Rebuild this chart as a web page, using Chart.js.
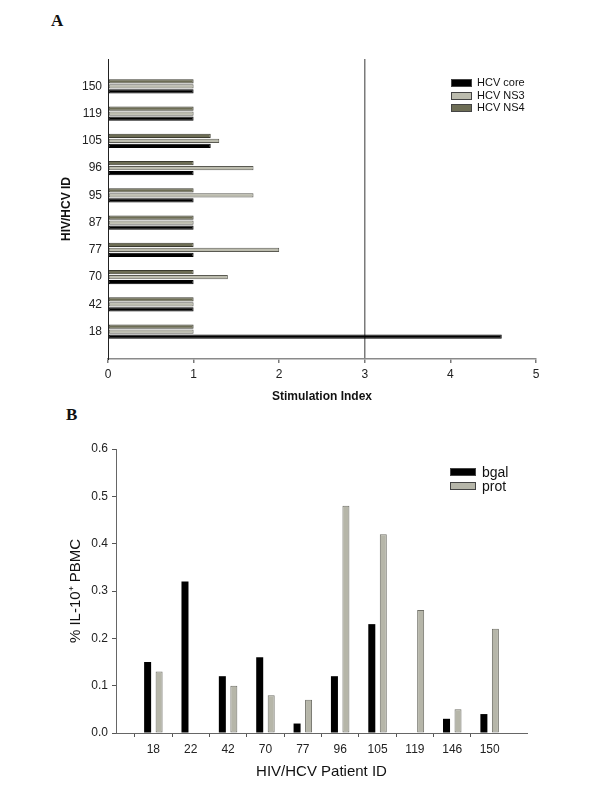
<!DOCTYPE html>
<html>
<head>
<meta charset="utf-8">
<script src="https://cdn.jsdelivr.net/npm/chart.js@4.4.0/dist/chart.umd.min.js"></script>
<style>
  body { margin: 0; background: #fff; }
  #wrap { position: relative; width: 600px; height: 800px; font-family: "Liberation Sans", Arial, sans-serif; }
  canvas { position: absolute; left: 0; }
  .panel { position: absolute; font-family: "Liberation Serif", "Times New Roman", serif; font-weight: bold; font-size: 17px; color: #111; }
  .item { position: absolute; color: #111; white-space: nowrap; }
  .item .box { position: absolute; left: 0; box-sizing: border-box; border: 1px solid #444; }
  .item .txt { position: absolute; }
</style>
</head>
<body>
<div id="wrap">
  <div class="panel" style="left:51px; top:11px;">A</div>
  <div class="panel" style="left:66px; top:405px;">B</div>
  <canvas id="chartA" width="600" height="420" style="top:0px;"></canvas>
  <canvas id="chartB" width="600" height="400" style="top:400px;"></canvas>
  <div id="legendA"></div>
  <div id="legendB"></div>
</div>
<script>
// panel A: stimulation index per patient
var idsA = ['18', '42', '70', '77', '87', '95', '96', '105', '119', '150']
var coreA = [4.6, 1, 1, 1, 1, 1, 1, 1.2, 1, 1]
var ns3A = [1, 1, 1.4, 2.0, 1, 1.7, 1.7, 1.3, 1, 1]
var ns4A = [1, 1, 1, 1, 1, 1, 1, 1.2, 1, 1]

// panel B: % IL-10+ PBMC
var idsB = ['18', '22', '42', '70', '77', '96', '105', '119', '146', '150']
var bgalB = [0.15, 0.32, 0.12, 0.16, 0.02, 0.12, 0.23, null, 0.03, 0.04]
var protB = [0.13, null, 0.10, 0.08, 0.07, 0.48, 0.42, 0.26, 0.05, 0.22]

// blank slot at each end, like the original axes
function pad(arr) { return [null].concat(arr, [null]) }
function padLabels(arr) { return [''].concat(arr, ['']) }

var font = '"Liberation Sans", Arial, sans-serif'
Chart.defaults.font.family = font
Chart.defaults.color = '#222'

var clear = 'rgba(0,0,0,0)'

let ctxA = document.getElementById('chartA').getContext('2d')
let chartA = new Chart(ctxA, {
  type: 'bar',
  data: {
    labels: padLabels(idsA),
    datasets: [
      { label: 'HCV NS4', data: pad(ns4A), backgroundColor: '#6d6d55', borderColor: '#3a3a2e', borderWidth: 1, borderSkipped: false, categoryPercentage: 0.55, barPercentage: 0.85 },
      { label: 'HCV NS3', data: pad(ns3A), backgroundColor: '#bcbcae', borderColor: '#5a5a52', borderWidth: 1, borderSkipped: false, categoryPercentage: 0.55, barPercentage: 0.85 },
      { label: 'HCV core', data: pad(coreA), backgroundColor: '#000000', borderColor: '#000000', borderWidth: 1, borderSkipped: false, categoryPercentage: 0.55, barPercentage: 0.85 }
    ]
  },
  options: {
    indexAxis: 'y',
    responsive: false,
    animation: false,
    layout: { padding: { left: 59, right: 64, top: 59, bottom: 16 } },
    plugins: { legend: { display: false }, tooltip: { enabled: false } },
    scales: {
      x: {
        type: 'linear', min: 0, max: 5,
        ticks: { stepSize: 1, padding: 4, font: { size: 12 } },
        grid: {
          color: function(c) { return c.tick && c.tick.value === 3 ? '#7a7a7a' : clear },
          lineWidth: 1.5, tickColor: '#7a7a7a', tickLength: 4
        },
        border: { color: '#8a8a8a', width: 1.5 },
        title: { display: true, text: 'Stimulation Index', font: { size: 12, weight: 'bold' }, color: '#111', padding: 0 },
        afterFit: function(s) { s.height = 45 }
      },
      y: {
        type: 'category', reverse: true, offset: false,
        grid: { display: false, drawTicks: false },
        border: { color: '#222', width: 1 },
        ticks: { autoSkip: false, padding: 6, font: { size: 12 } },
        title: { display: true, text: 'HIV/HCV ID', font: { size: 12, weight: 'bold' }, color: '#111', padding: 0 },
        afterFit: function(s) { s.width = 49 }
      }
    }
  }
})

let ctxB = document.getElementById('chartB').getContext('2d')
let chartB = new Chart(ctxB, {
  type: 'bar',
  data: {
    labels: padLabels(idsB),
    datasets: [
      { label: 'bgal', data: pad(bgalB), backgroundColor: '#000000', borderColor: '#000000', borderWidth: 0, categoryPercentage: 0.615, barPercentage: 0.61 },
      { label: 'prot', data: pad(protB), backgroundColor: '#b6b6a9', borderColor: '#707068', borderWidth: 1, borderSkipped: false, categoryPercentage: 0.615, barPercentage: 0.61 }
    ]
  },
  options: {
    responsive: false,
    animation: false,
    layout: { padding: { left: 67, right: 73, top: 49, bottom: 19 } },
    plugins: { legend: { display: false }, tooltip: { enabled: false } },
    scales: {
      x: {
        type: 'category', offset: false,
        grid: {
          color: clear, tickLength: 4,
          tickColor: function(c) { return (c.index === 0 || c.index === idsB.length + 1) ? clear : '#555' }
        },
        border: { color: '#666', width: 1 },
        ticks: { autoSkip: false, maxRotation: 0, padding: 5, font: { size: 12 } },
        title: { display: true, text: 'HIV/HCV Patient ID', font: { size: 15 }, color: '#111', padding: 0 },
        afterFit: function(s) { s.height = 48 }
      },
      y: {
        min: 0, max: 0.6,
        grid: { color: clear, tickColor: '#555', tickLength: 4 },
        border: { color: '#666', width: 1 },
        ticks: { stepSize: 0.1, padding: 4, font: { size: 12 }, callback: function(v) { return v.toFixed(1) } },
        title: { display: true, text: '% IL-10\u207A PBMC', font: { size: 15 }, color: '#111', padding: 0 },
        afterFit: function(s) { s.width = 49 }
      }
    }
  }
})

// legends drawn as html boxes inside the plot areas
function legend(el, items, x, y0, step, bw, bh, fs, gap) {
  items.forEach(function(it, i) {
    var d = document.createElement('div')
    d.className = 'item'
    d.style.left = x + 'px'
    d.style.top = (y0 + i * step) + 'px'
    d.style.fontSize = fs + 'px'
    d.innerHTML = '<span class="box" style="width:' + bw + 'px;height:' + bh + 'px;top:0;background:' + it.color +
      '"></span><span class="txt" style="left:' + (bw + gap) + 'px;top:' + (bh / 2 - fs * 0.6) + 'px">' + it.label + '</span>'
    el.appendChild(d)
  })
}
var dsA = chartA.data.datasets
legend(document.getElementById('legendA'),
  [dsA[2], dsA[1], dsA[0]].map(function(d) { return { label: d.label, color: d.backgroundColor } }),
  451, 79, 12.5, 21, 8, 11, 5)
var dsB = chartB.data.datasets
legend(document.getElementById('legendB'),
  dsB.map(function(d) { return { label: d.label, color: d.backgroundColor } }),
  450, 468, 14, 26, 8, 14, 6)
</script>
</body>
</html>
